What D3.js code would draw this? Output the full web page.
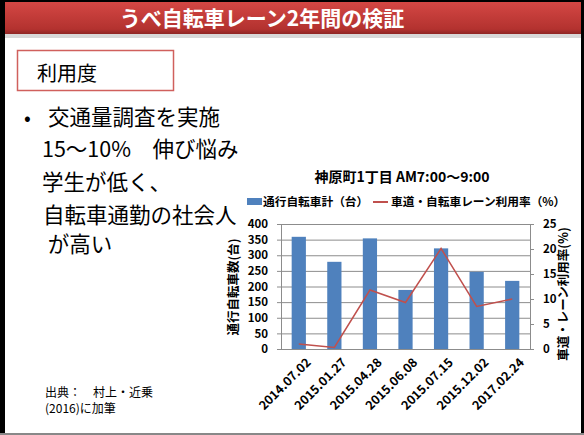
<!DOCTYPE html>
<html>
<head>
<meta charset="utf-8">
<script src="https://cdn.jsdelivr.net/npm/d3@7"></script>
<style>
  body { margin: 0; background: #fff; }
  svg { display: block; font-family: "Noto Sans CJK JP", "Noto Sans", sans-serif; }
</style>
</head>
<body>
<div class="chart"></div>
<script>
const dates = ['2014.07.02', '2015.01.27', '2015.04.28', '2015.06.08', '2015.07.15', '2015.12.02', '2017.02.24'];
const bikes = [359, 279, 354, 189, 322, 247, 218];
const laneRate = [1.0, 0.3, 11.8, 9.3, 20.1, 8.5, 10.0];
const leftTicks = [0, 50, 100, 150, 200, 250, 300, 350, 400];
const rightTicks = [0, 5, 10, 15, 20, 25];
const notes = ['交通量調査を実施', '15～10%　伸び悩み', '学生が低く、', '自転車通勤の社会人', ' が高い'];

const W = 584, H = 435;
const svg = d3.select('.chart').append('svg').attr('width', W).attr('height', H);

// slide frame and title bar
const defs = svg.append('defs');
const grad = defs.append('linearGradient').attr('id', 'bar').attr('x1', 0).attr('y1', 0).attr('x2', 0).attr('y2', 1);
grad.append('stop').attr('offset', '0%').attr('stop-color', '#d44744');
grad.append('stop').attr('offset', '85%').attr('stop-color', '#b3322f');
grad.append('stop').attr('offset', '100%').attr('stop-color', '#8e2624');
svg.append('rect').attr('x', 0).attr('y', 0).attr('width', W).attr('height', H).attr('fill', '#fff');
svg.append('rect').attr('x', 0).attr('y', 2).attr('width', W).attr('height', 32).attr('fill', 'url(#bar)');
svg.append('rect').attr('x', 0).attr('y', 34).attr('width', W).attr('height', 4).attr('fill', '#d8d8d8');
svg.append('rect').attr('x', 0).attr('y', 0).attr('width', W).attr('height', 2).attr('fill', '#000');
svg.append('rect').attr('x', 0).attr('y', 0).attr('width', 5).attr('height', H).attr('fill', '#000');
svg.append('rect').attr('x', 581).attr('y', 0).attr('width', 3).attr('height', H).attr('fill', '#000');
svg.append('rect').attr('x', 0).attr('y', 433).attr('width', W).attr('height', 2).attr('fill', '#888');
svg.append('text').attr('x', 262).attr('y', 26).attr('text-anchor', 'middle')
  .attr('fill', '#fff').attr('font-size', 21).attr('font-weight', 'bold')
  .text('うべ自転車レーン2年間の検証');

// heading box
svg.append('rect').attr('x', 17.5).attr('y', 50.5).attr('width', 156).attr('height', 40)
  .attr('fill', '#fff').attr('stroke', '#d0605d').attr('stroke-width', 1.5);
svg.append('text').attr('x', 37).attr('y', 81).attr('font-size', 20).text('利用度');

// left notes
svg.append('text').attr('x', 24).attr('y', 125).attr('font-size', 20).text('•');
const noteX = [48, 42, 42, 43, 43];
const noteY = [125, 157, 190, 223, 252];
svg.append('g').selectAll('text').data(notes).join('text')
  .attr('x', (d, i) => noteX[i]).attr('y', (d, i) => noteY[i])
  .attr('font-size', 21.5).attr('xml:space', 'preserve').text(d => d);

// source
svg.append('text').attr('x', 45).attr('y', 397).attr('font-size', 12).text('出典：　村上・近乗');
svg.append('text').attr('x', 45).attr('y', 413).attr('font-size', 12).text('(2016)に加筆');

// chart
const m = { left: 281, right: 530, top: 224, bottom: 349 };
const x = d3.scaleBand().domain(dates).range([m.left, m.right]).paddingInner(0.6).paddingOuter(0.3);
const xc = d3.scalePoint().domain(dates).range([m.left, m.right]).padding(0.5);
const y = d3.scaleLinear().domain([0, 400]).range([m.bottom, m.top]);
const y2 = d3.scaleLinear().domain([0, 25]).range([m.bottom, m.top]);

svg.append('text').attr('x', 402).attr('y', 182).attr('text-anchor', 'middle')
  .attr('font-size', 14).attr('font-weight', 'bold').text('神原町1丁目 AM7:00～9:00');

// legend
const lg = svg.append('g').attr('font-size', 11.7).attr('font-weight', 'bold');
lg.append('rect').attr('x', 247).attr('y', 198).attr('width', 15).attr('height', 7).attr('fill', '#4f81bd');
lg.append('text').attr('x', 263).attr('y', 206).text('通行自転車計（台）');
lg.append('line').attr('x1', 373).attr('x2', 388).attr('y1', 202).attr('y2', 202)
  .attr('stroke', '#c0504d').attr('stroke-width', 2);
lg.append('text').attr('x', 391).attr('y', 206).text('車道・自転車レーン利用率（%）');

// gridlines
svg.append('g').selectAll('line').data(leftTicks.slice(1)).join('line')
  .attr('x1', m.left).attr('x2', m.right).attr('y1', d => y(d) + 0.5).attr('y2', d => y(d) + 0.5)
  .attr('stroke', '#8c8c8c').attr('stroke-width', 1);

// bars
svg.append('g').selectAll('rect').data(bikes).join('rect')
  .attr('x', (d, i) => x(dates[i])).attr('width', x.bandwidth())
  .attr('y', d => y(d)).attr('height', d => y(0) - y(d))
  .attr('fill', '#4f81bd');

// axes
const axL = svg.append('g').attr('transform', `translate(${m.left},0)`)
  .call(d3.axisLeft(y).tickValues(leftTicks).tickSize(4).tickPadding(9));
const axR = svg.append('g').attr('transform', `translate(${m.right},0)`)
  .call(d3.axisRight(y2).tickValues(rightTicks).tickSize(4).tickPadding(9));
const axB = svg.append('g').attr('transform', `translate(0,${m.bottom})`)
  .call(d3.axisBottom(xc).tickSize(0).tickPadding(6));
[axL, axR, axB].forEach(a => {
  a.selectAll('path, line').attr('stroke', '#8c8c8c');
  a.selectAll('text').attr('font-size', 11.5).attr('font-weight', 'bold').attr('fill', '#000')
    .attr('font-family', '"Noto Sans CJK JP", sans-serif');
});
axB.selectAll('text').attr('font-size', 12.5).attr('text-anchor', 'end').attr('dy', '0.35em')
  .attr('transform', 'translate(5,7) rotate(-45)');
axB.select('.domain').remove();
svg.append('rect').attr('x', m.left + 0.5).attr('y', m.top + 0.5)
  .attr('width', m.right - m.left).attr('height', m.bottom - m.top)
  .attr('fill', 'none').attr('stroke', '#8c8c8c');

// line
svg.append('path').datum(laneRate)
  .attr('d', d3.line().x((d, i) => xc(dates[i])).y(d => y2(d)))
  .attr('fill', 'none').attr('stroke', '#c0504d').attr('stroke-width', 1.5);

// axis titles
svg.append('text').attr('transform', 'translate(238,287) rotate(-90)').attr('text-anchor', 'middle')
  .attr('font-size', 12.5).attr('font-weight', 'bold').text('通行自転車数(台)');
svg.append('text').attr('transform', 'translate(568,294) rotate(-90)').attr('text-anchor', 'middle')
  .attr('font-size', 12.5).attr('font-weight', 'bold').text('車道・レーン利用率(%)');
</script>
</body>
</html>
